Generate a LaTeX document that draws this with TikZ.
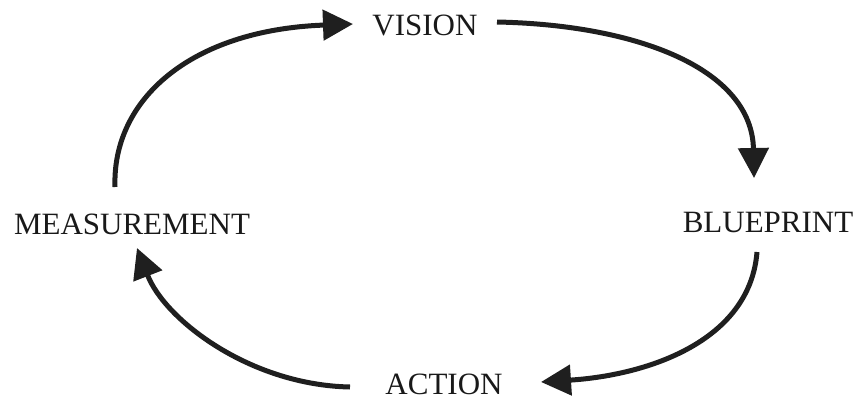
\documentclass[tikz,border=0pt]{standalone}
\usepackage{fontspec}
\setmainfont{Liberation Serif}
\usetikzlibrary{arrows.meta}
\begin{document}
\begin{tikzpicture}[x=1pt,y=1pt,
  lbl/.style={inner sep=0pt, font=\fontsize{31}{31}\selectfont, text=black!90},
  cyc/.style={line width=5pt, black!88, -{Triangle[length=30pt,width=30pt]}}]
\useasboundingbox (0,0) rectangle (855,400);
\node[lbl] (vision) at (425,374.5) {VISION};
\node[lbl] (blue) at (768,177) {BLUEPRINT};
\node[lbl] (action) at (444,16) {ACTION};
\node[lbl] (meas) at (132,176) {MEASUREMENT};
\coordinate (m1) at (115,213);
\coordinate (v1) at (353,376);
\coordinate (v2) at (497,378);
\coordinate (b1) at (754,222);
\coordinate (b2) at (757,148);
\coordinate (a1) at (541,18);
\coordinate (a2) at (350,13);
\coordinate (m2) at (137,152);
\draw[cyc] (m1) .. controls (112,300) and (190,370) .. (v1);
\draw[cyc] (v2) .. controls (640,375) and (752,330) .. (b1);
\draw[cyc] (b2) .. controls (750,60) and (650,25) .. (a1);
\draw[cyc] (a2) .. controls (250,15) and (165,80) .. (m2);
\end{tikzpicture}
\end{document}
